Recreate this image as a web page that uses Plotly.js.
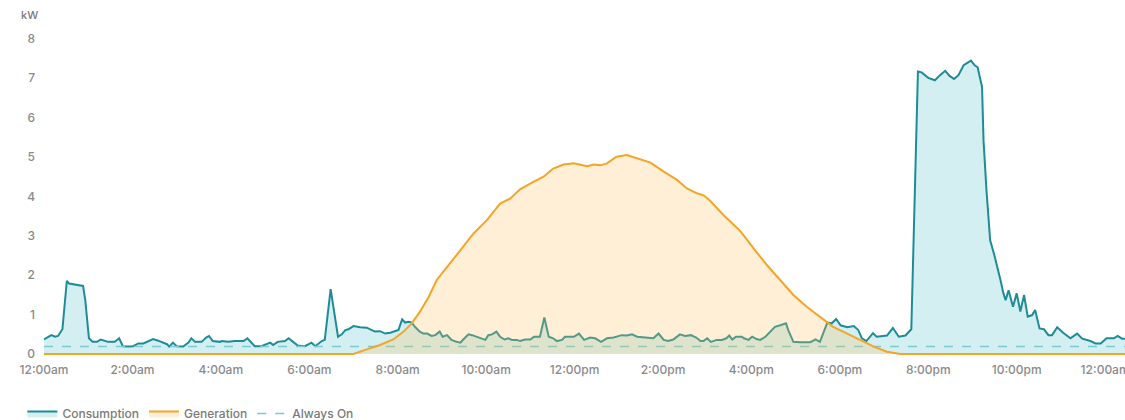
<!DOCTYPE html>
<html>
<head>
<meta charset="utf-8">
<script src="https://cdn.plot.ly/plotly-3.0.1.min.js"></script>
<style>
  html, body { margin: 0; padding: 0; background: #fff; }
  #chart { width: 1125px; height: 420px; }
</style>
</head>
<body>
<div id="chart"></div>
<script>
// Time of day in minutes since midnight; values in kW
const consumptionTime = [
  0,10,15,19,25,31,34,40,44,50,53,56,61,66,72,77,83,87,96,102,107,114,121,128,135,142,148,155,162,167,170,175,180,189,196,200,205,214,220,224,229,239,
  241,250,259,271,276,281,286,295,302,307,311,317,327,332,338,344,354,363,368,377,381,389,399,404,409,413,420,429,438,445,449,456,463,470,476,
  481,486,490,495,499,504,510,515,520,526,531,537,541,547,553,560,565,569,576,581,587,594,599,603,608,614,619,625,630,635,642,646,653,660,665,673,679,685,691,696,703,707,714,
  719,726,733,741,748,756,764,773,784,791,798,805,816,827,834,841,847,854,863,870,878,885,891,895,900,905,913,920,926,930,934,939,947,
  950,956,961,967,972,979,986,992,999,1007,1010,1017,1026,1040,1047,1053,1063,1069,1075,1081,1090,1099,1105,1110,1116,1125,1130,1137,1144,1152,1160,1169,1177,
  1186,1191,1200,1209,1216,1223,1229,1235,1241,1248,1253,1258,1263,1267,1273,1275,1279,1282,1284,1289,1294,1298,1302,1305,1309,1315,1320,1325,1330,1335,1341,1345,
  1351,1357,1363,1368,1375,1383,1393,1402,1409,1420,1427,1434,1442,1452,1457,1463,1467
];
const consumptionKw = [
  0.37,0.48,0.44,0.46,0.63,1.86,1.79,1.77,1.75,1.74,1.73,1.37,0.40,0.31,0.31,0.37,0.34,0.31,0.31,0.40,0.20,0.19,0.20,0.27,0.27,0.33,0.38,0.34,0.29,0.25,0.19,0.29,0.20,0.19,0.29,0.40,0.31,0.31,0.42,0.46,0.33,0.31,
  0.33,0.31,0.33,0.33,0.40,0.31,0.20,0.20,0.25,0.29,0.23,0.31,0.33,0.40,0.31,0.22,0.20,0.29,0.20,0.33,0.36,1.65,0.44,0.50,0.61,0.63,0.71,0.68,0.67,0.61,0.57,0.58,0.52,0.54,0.57,
  0.61,0.88,0.80,0.82,0.80,0.68,0.57,0.52,0.52,0.46,0.48,0.57,0.44,0.48,0.36,0.31,0.29,0.37,0.50,0.48,0.44,0.40,0.36,0.48,0.50,0.57,0.44,0.37,0.40,0.36,0.36,0.33,0.37,0.37,0.44,0.44,0.93,0.44,0.40,0.33,0.36,0.44,0.44,
  0.44,0.52,0.36,0.42,0.40,0.31,0.40,0.42,0.48,0.47,0.50,0.44,0.42,0.40,0.52,0.36,0.33,0.37,0.50,0.46,0.48,0.42,0.33,0.33,0.40,0.31,0.36,0.36,0.40,0.47,0.37,0.44,0.44,
  0.40,0.36,0.44,0.38,0.36,0.44,0.59,0.69,0.73,0.78,0.61,0.31,0.30,0.30,0.37,0.31,0.80,0.78,0.89,0.73,0.68,0.71,0.61,0.40,0.33,0.53,0.44,0.46,0.47,0.66,0.44,0.47,0.63,
  7.17,7.15,7.01,6.95,7.08,7.19,7.06,6.98,7.08,7.33,7.39,7.45,7.33,7.28,6.78,5.43,4.16,3.23,2.89,2.56,2.22,1.88,1.54,1.37,1.62,1.20,1.54,1.08,1.50,0.95,0.99,1.12,
  0.65,0.63,0.48,0.48,0.68,0.54,0.40,0.52,0.39,0.33,0.27,0.27,0.40,0.40,0.46,0.39,0.39
];
const generationTime = [
  0,420,438,456,474,488,499,510,522,533,542,551,565,583,601,619,633,646,664,678,
  691,705,719,737,746,755,764,777,791,805,823,841,859,872,886,895,904,922,945,963,
  981,999,1017,1035,1053,1071,1090,1108,1126,1144,1162,1467
];
const generationKw = [
  0,0,0.12,0.23,0.37,0.57,0.78,1.07,1.45,1.88,2.09,2.30,2.64,3.06,3.40,3.82,3.95,4.18,4.37,4.50,
  4.71,4.81,4.84,4.77,4.81,4.79,4.84,5.01,5.05,4.97,4.86,4.63,4.42,4.21,4.08,4.03,3.89,3.53,3.12,2.68,
  2.26,1.88,1.50,1.20,0.95,0.69,0.52,0.36,0.19,0.06,0,0
];
const alwaysOnTime = [0, 1467];
const alwaysOnKw = [0.19, 0.19];

const tickHours = [0,2,4,6,8,10,12,14,16,18,20,22,24];
const tickLabels = ["12:00am","2:00am","4:00am","6:00am","8:00am","10:00am","12:00pm","2:00pm","4:00pm","6:00pm","8:00pm","10:00pm","12:00am"];
const yTicks = [0,1,2,3,4,5,6,7,8];
const unitLabel = "kW";
const seriesNames = ["Consumption", "Generation", "Always On"];

const toHours = a => a.map(m => m / 60);
const FONT = "Inter, 'Noto Sans', sans-serif";

const traces = [
  {
    x: toHours(consumptionTime), y: consumptionKw, name: seriesNames[0],
    type: 'scatter', mode: 'lines', fill: 'tozeroy',
    fillcolor: 'rgba(40,175,190,0.20)',
    line: { color: '#1e8c96', width: 2 },
    legendrank: 1, hoverinfo: 'skip'
  },
  {
    x: toHours(alwaysOnTime), y: alwaysOnKw, name: seriesNames[2],
    type: 'scatter', mode: 'lines',
    line: { color: '#7cc9d2', width: 1.5, dash: 'dash' },
    legendrank: 3, hoverinfo: 'skip'
  },
  {
    x: toHours(generationTime), y: generationKw, name: seriesNames[1],
    type: 'scatter', mode: 'lines', fill: 'tozeroy',
    fillcolor: 'rgba(250,190,90,0.25)',
    line: { color: '#f2a526', width: 2 },
    legendrank: 2, hoverinfo: 'skip'
  }
];

const layout = {
  width: 1125, height: 420,
  margin: { l: 44, r: 0, t: 31, b: 62 },
  paper_bgcolor: '#ffffff', plot_bgcolor: '#ffffff',
  font: { family: FONT, size: 12, color: '#8a8a8a' },
  showlegend: true,
  legend: {
    orientation: 'h', xref: 'paper', x: -0.02, xanchor: 'left',
    yref: 'container', y: 0.05, yanchor: 'top',
    font: { family: FONT, size: 12, color: '#7a7a7a', weight: 500 },
    itemwidth: 30, traceorder: 'normal'
  },
  xaxis: {
    range: [0, 1467 / 60], showgrid: false, zeroline: false, showline: false,
    tickmode: 'array', tickvals: tickHours, ticktext: tickLabels,
    ticks: '', ticklabeloverflow: 'allow', ticklabelstandoff: 3, fixedrange: true,
    automargin: false,
    tickfont: { family: FONT, size: 12, color: '#8a8a8a', weight: 500 }
  },
  yaxis: {
    range: [-0.1, 8.2], showgrid: false, zeroline: false, showline: false,
    tickmode: 'array', tickvals: yTicks, ticks: '', ticklabelstandoff: 8,
    fixedrange: true, automargin: false,
    tickfont: { family: FONT, size: 12, color: '#8a8a8a', weight: 500 }
  },
  annotations: [{
    text: unitLabel, xref: 'paper', yref: 'paper',
    x: -0.013, y: 1.05, xanchor: 'center', yanchor: 'middle',
    showarrow: false, font: { family: FONT, size: 11, color: '#7a7a7a', weight: 500 }
  }]
};

Plotly.newPlot('chart', traces, layout, { displayModeBar: false, staticPlot: true });
</script>
</body>
</html>
